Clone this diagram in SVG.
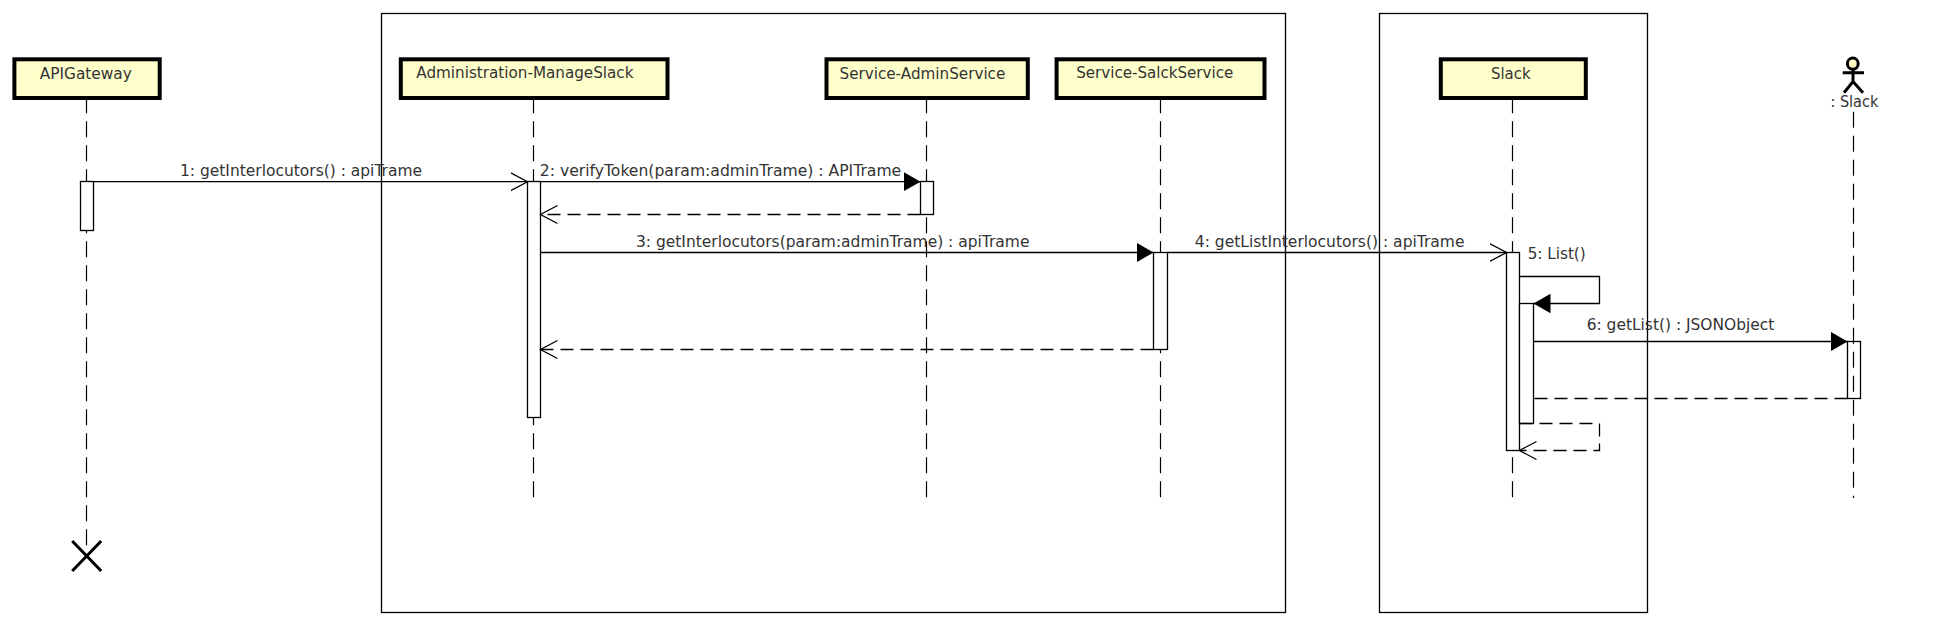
<svg xmlns="http://www.w3.org/2000/svg" width="1940" height="625" viewBox="0 0 1940 625">
<style>
text{font-family:"DejaVu Sans","Liberation Sans",sans-serif;font-size:16px;fill:#333;stroke:none}
.frame{fill:none;stroke:#000;stroke-width:1.3}
.box{fill:#ffffcc;stroke:#000;stroke-width:4}
.life{fill:none;stroke:#000;stroke-width:1.2;stroke-dasharray:16 8}
.act{fill:#fff;stroke:#000;stroke-width:1.3}
.acto{fill:none;stroke:#000;stroke-width:1.3}
.msg{fill:none;stroke:#000;stroke-width:1.3}
.solid{marker-end:url(#filled)}
.open{marker-end:url(#open)}
.ret{stroke-dasharray:13 7}
.stick{fill:none;stroke:#000;stroke-width:3}
</style>
<defs>
<marker id="filled" markerUnits="userSpaceOnUse" markerWidth="20" markerHeight="24" refX="17" refY="11" orient="auto"><path d="M0 1.3 L17 11 L0 20.7 Z" fill="#000"/></marker>
<marker id="open" markerUnits="userSpaceOnUse" markerWidth="20" markerHeight="24" refX="17" refY="11" orient="auto"><path d="M0 2 L17 11 L0 20" fill="none" stroke="#000" stroke-width="1.3"/></marker>
</defs>
<g id="frames">
<rect class="frame" x="381.5" y="13.5" width="904" height="599"/>
<rect class="frame" x="1379.5" y="13.5" width="268" height="599"/>
</g>
<g id="node-apigateway">
<line class="life" x1="86.5" y1="97.3" x2="86.5" y2="546"/>
<rect class="box" x="14.4" y="59.3" width="145.3" height="38.7"/>
<text x="39.8" y="79.2" textLength="92" lengthAdjust="spacingAndGlyphs">APIGateway</text>
<rect class="act" x="80.5" y="181.5" width="13" height="49"/>
<path class="stick" d="M72.2 541 L101.2 571 M101.2 541 L72.2 571"/>
</g>
<g id="node-administration">
<line class="life" x1="533.5" y1="97.3" x2="533.5" y2="498"/>
<rect class="box" x="400.8" y="59.3" width="266.7" height="38.7"/>
<text x="416.3" y="77.7" textLength="217.2" lengthAdjust="spacingAndGlyphs">Administration-ManageSlack</text>
<rect class="act" x="527.5" y="181.5" width="13" height="236"/>
</g>
<g id="node-adminservice">
<line class="life" x1="926.5" y1="97.3" x2="926.5" y2="498"/>
<rect class="box" x="826.5" y="59.3" width="201.3" height="38.7"/>
<text x="839.5" y="79" textLength="165.8" lengthAdjust="spacingAndGlyphs">Service-AdminService</text>
<rect class="act" x="920.5" y="181.5" width="13" height="33"/>
</g>
<g id="node-salckservice">
<line class="life" x1="1160.5" y1="97.3" x2="1160.5" y2="498"/>
<rect class="box" x="1056.6" y="59.3" width="207.9" height="38.7"/>
<text x="1076.2" y="77.7" textLength="157.1" lengthAdjust="spacingAndGlyphs">Service-SalckService</text>
<rect class="act" x="1153.5" y="252.5" width="14" height="97"/>
</g>
<g id="node-slack">
<line class="life" x1="1512.5" y1="97.3" x2="1512.5" y2="498"/>
<rect class="box" x="1440.8" y="59.3" width="145" height="38.7"/>
<text x="1491" y="79" textLength="39.6" lengthAdjust="spacingAndGlyphs">Slack</text>
<rect class="act" x="1506.5" y="252.5" width="13" height="198"/>
<rect class="act" x="1519.5" y="303.5" width="14" height="120"/>
</g>
<g id="node-actor-slack">
<line class="life" x1="1853.5" y1="111.7" x2="1853.5" y2="498"/>
<ellipse cx="1852.8" cy="63.7" rx="5.4" ry="5.6" fill="#ffffcc" stroke="#000" stroke-width="3"/>
<path class="stick" d="M1853 69.5 V81.5 M1842.7 72.7 H1864 M1844 92.7 L1853 81.5 L1863 92.7"/>
<text x="1830.4" y="106.7" textLength="48" lengthAdjust="spacingAndGlyphs">: Slack</text>
<rect class="acto" x="1847.5" y="341.5" width="13" height="57"/>
</g>
<g id="connectors">
<line class="msg open" x1="93.5" y1="181.7" x2="527.5" y2="181.7"/>
<text x="180" y="176" textLength="242" lengthAdjust="spacingAndGlyphs">1: getInterlocutors() : apiTrame</text>
<line class="msg solid" x1="540.5" y1="181.7" x2="920.5" y2="181.7"/>
<text x="539.8" y="176" textLength="361.4" lengthAdjust="spacingAndGlyphs">2: verifyToken(param:adminTrame) : APITrame</text>
<line class="msg ret open" x1="920.5" y1="214.5" x2="540.5" y2="214.5"/>
<line class="msg solid" x1="540.5" y1="252.5" x2="1153.5" y2="252.5"/>
<text x="636" y="247" textLength="393.4" lengthAdjust="spacingAndGlyphs">3: getInterlocutors(param:adminTrame) : apiTrame</text>
<line class="msg open" x1="1167.5" y1="252.5" x2="1506.5" y2="252.5"/>
<text x="1194.8" y="247" textLength="269.7" lengthAdjust="spacingAndGlyphs">4: getListInterlocutors() : apiTrame</text>
<line class="msg ret open" x1="1153.5" y1="349.5" x2="540.5" y2="349.5"/>
<path class="msg solid" d="M1519.5 276.5 H1599.5 V303.5 H1533.5"/>
<text x="1527.7" y="259" textLength="58" lengthAdjust="spacingAndGlyphs">5: List()</text>
<line class="msg solid" x1="1533.5" y1="341.5" x2="1847.5" y2="341.5"/>
<text x="1586.7" y="330" textLength="187.6" lengthAdjust="spacingAndGlyphs">6: getList() : JSONObject</text>
<line class="msg ret" x1="1847.5" y1="398.5" x2="1533.5" y2="398.5"/>
<path class="msg ret open" d="M1519.5 423.5 H1599.5 V450.5 H1519.5"/>
</g>
</svg>
